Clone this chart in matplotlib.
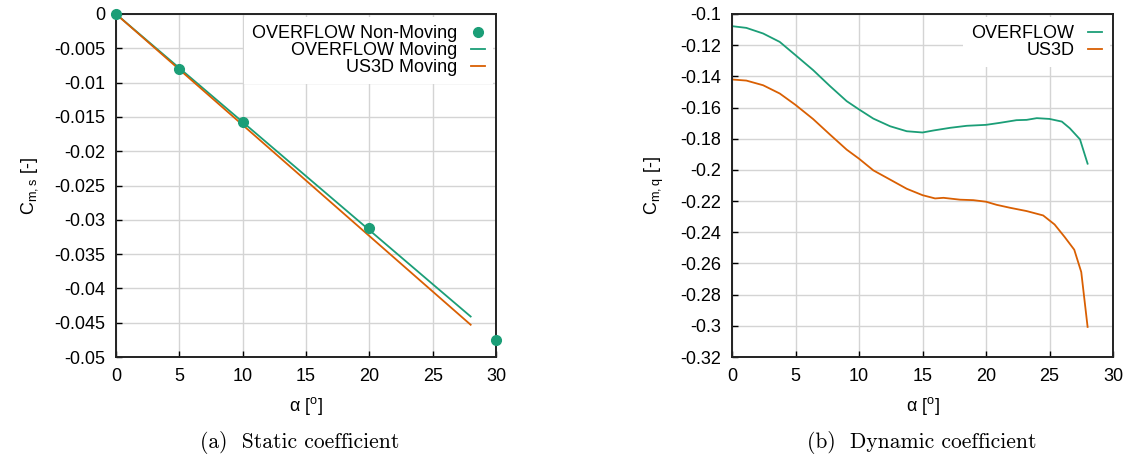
import matplotlib
matplotlib.use("Agg")
import matplotlib.pyplot as plt
from matplotlib.ticker import FuncFormatter, MultipleLocator

plt.rcParams["font.family"] = ["Liberation Sans", "DejaVu Sans"]
plt.rcParams["axes.unicode_minus"] = False
plt.rcParams["mathtext.fontset"] = "custom"
plt.rcParams["mathtext.rm"] = "Liberation Sans"

# Static coefficient
alpha_static = [0, 5, 10, 20, 30]
cms_overflow_nonmoving = [0.0, -0.0080, -0.0157, -0.03115, -0.04757]
alpha_moving = [0, 5, 10, 15, 20, 25, 28]
cms_overflow_moving = [0.0, -0.00788, -0.01575, -0.02363, -0.0315, -0.03938, -0.0441]
cms_us3d_moving = [0.0, -0.00809, -0.01618, -0.02427, -0.03236, -0.04045, -0.0453]

# Dynamic coefficient
alpha_overflow = [0.0, 1.13, 2.45, 3.76, 5.0, 6.39, 7.71, 9.03, 10.0, 11.13,
                  12.45, 13.76, 15.0, 15.87, 17.18, 18.49, 20.0, 21.1, 22.4,
                  23.2, 24.0, 25.0, 25.97, 26.6, 27.4, 28.0]
cmq_overflow = [-0.1078, -0.1089, -0.1125, -0.1179, -0.1264, -0.1360, -0.1462,
                -0.1559, -0.1612, -0.1671, -0.1720, -0.1752, -0.1760, -0.1747,
                -0.1730, -0.1717, -0.1711, -0.1698, -0.1681, -0.1679, -0.1668,
                -0.1673, -0.1690, -0.1733, -0.1804, -0.1960]
alpha_us3d = [0.0, 1.13, 2.45, 3.76, 5.0, 6.39, 7.71, 9.03, 10.0, 11.13,
              12.18, 13.76, 15.0, 15.99, 16.65, 17.96, 19.0, 20.0, 20.84,
              21.9, 23.2, 24.5, 25.4, 26.2, 26.95, 27.5, 28.0]
cmq_us3d = [-0.1420, -0.1427, -0.1457, -0.1510, -0.1583, -0.1674, -0.1773,
            -0.1870, -0.1928, -0.2003, -0.2050, -0.2121, -0.2162, -0.2183,
            -0.2179, -0.2191, -0.2194, -0.2204, -0.2224, -0.2243, -0.2264,
            -0.2292, -0.2350, -0.2431, -0.2512, -0.2655, -0.3007]

green = "#1b9e77"
orange = "#d95f02"
tick_fs = 13

fig = plt.figure(figsize=(11.30, 4.63), dpi=100)
ax1 = fig.add_axes([116 / 1130, 106 / 463, 380 / 1130, 343 / 463])
ax2 = fig.add_axes([732 / 1130, 106 / 463, 381 / 1130, 343 / 463])

fmt = FuncFormatter(lambda v, p: "%g" % round(v, 6))


def style(ax):
    ax.grid(True, color="#d4d4d4", linewidth=1.0)
    ax.set_axisbelow(True)
    for s in ax.spines.values():
        s.set_linewidth(1.4)
        s.set_color("#222222")
    ax.tick_params(direction="in", length=4, width=1.0, labelsize=tick_fs,
                   top=False, right=False, pad=8)
    ax.xaxis.set_major_locator(MultipleLocator(5))
    ax.xaxis.set_major_formatter(fmt)
    ax.yaxis.set_major_formatter(fmt)
    ax.set_xlim(0, 30)


def key(ax):
    leg = ax.legend(loc="upper right", bbox_to_anchor=(1.0, 1.0), markerfirst=False,
                    fontsize=tick_fs, frameon=True, framealpha=1, edgecolor="none",
                    fancybox=False, handlelength=0.8, handletextpad=0.75,
                    labelspacing=0.0, borderpad=0.45, borderaxespad=0.15)
    leg._legend_box.align = "right"
    return leg


style(ax1)
ax1.plot(alpha_static, cms_overflow_nonmoving, "o", color=green, markersize=7,
         label="OVERFLOW Non-Moving", clip_on=False, zorder=5)
ax1.plot(alpha_moving, cms_overflow_moving, "-", color=green, linewidth=1.3,
         label="OVERFLOW Moving")
ax1.plot(alpha_moving, cms_us3d_moving, "-", color=orange, linewidth=1.3,
         label="US3D Moving")
ax1.set_ylim(-0.05, 0)
ax1.yaxis.set_major_locator(MultipleLocator(0.005))
ax1.set_xlabel(r"α [$^\mathregular{o}$]", fontsize=tick_fs, labelpad=7)
ax1.set_ylabel(r"C$_\mathregular{m,s}$ [-]", fontsize=tick_fs, labelpad=10)
key(ax1)

style(ax2)
ax2.plot(alpha_overflow, cmq_overflow, "-", color=green, linewidth=1.3, label="OVERFLOW")
ax2.plot(alpha_us3d, cmq_us3d, "-", color=orange, linewidth=1.3, label="US3D")
ax2.set_ylim(-0.32, -0.1)
ax2.yaxis.set_major_locator(MultipleLocator(0.02))
ax2.set_xlabel(r"α [$^\mathregular{o}$]", fontsize=tick_fs, labelpad=7)
ax2.set_ylabel(r"C$_\mathregular{m,q}$ [-]", fontsize=tick_fs, labelpad=10)
key(ax2)

cap_font = dict(family=["cmr10", "DejaVu Serif"], fontsize=15.5, ha="center", va="center")
fig.text(300 / 1130, 1 - 443 / 463, "(a)  Static coefficient", **cap_font)
fig.text(922 / 1130, 1 - 443 / 463, "(b)  Dynamic coefficient", **cap_font)

fig.savefig("out.png", dpi=100, facecolor="white")
